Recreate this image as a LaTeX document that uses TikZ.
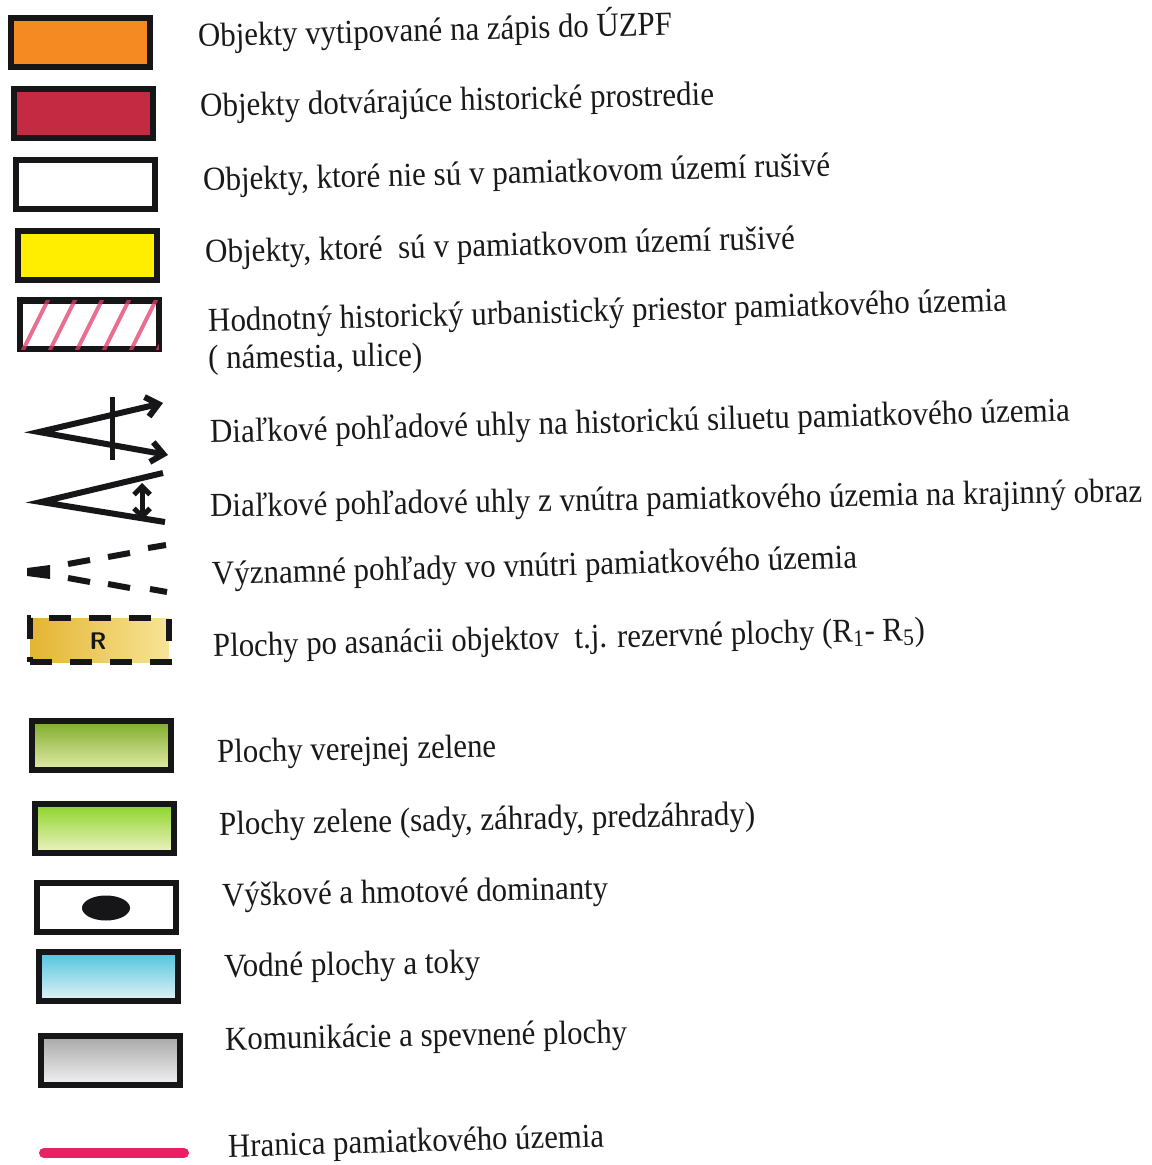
\documentclass[tikz,border=0pt]{standalone}
\usepackage{fontspec}
\setmainfont{Liberation Serif}
\usepackage{graphicx}
\usetikzlibrary{arrows.meta,shapes.geometric}
\definecolor{cOrange}{RGB}{246,138,34}
\definecolor{cRed}{RGB}{196,42,66}
\definecolor{cYellow}{RGB}{255,238,0}
\definecolor{cHatch}{RGB}{228,62,104}
\definecolor{cGreenA}{RGB}{126,172,42}
\definecolor{cGreenApale}{RGB}{228,236,170}
\definecolor{cGreenB}{RGB}{140,212,40}
\definecolor{cGreenBpale}{RGB}{238,242,196}
\definecolor{cCyan}{RGB}{78,196,222}
\definecolor{cCyanpale}{RGB}{228,243,246}
\definecolor{cGray}{RGB}{168,168,168}
\definecolor{cGraypale}{RGB}{242,242,242}
\definecolor{cOchre}{RGB}{228,180,50}
\definecolor{cOchrepale}{RGB}{247,228,150}
\definecolor{cPink}{RGB}{232,32,100}
\definecolor{cInk}{RGB}{22,22,24}
\tikzset{
  legbox/.style={draw=cInk, line width=3.2pt, rectangle, inner sep=0pt,
                 minimum width=69.3pt, minimum height=24.3pt},
  lab/.style={anchor=base west, inner sep=0pt, text=black!90,
              font=\fontsize{16.8}{19}\selectfont},
  sym/.style={draw=cInk, line width=3pt},
  dsh/.style={draw=cInk, line width=3pt},
}
\newcommand\lbl[6]{%
  \pgfmathsetmacro\lblw{(#4-#2)*0.5}%
  \pgfmathsetmacro\lbla{atan2(#3-#5,#4-#2)}%
  \node[lab, rotate=\lbla] (#1) at (#2,#3) {\resizebox{\lblw pt}{\height}{#6}};}
\begin{document}
\begin{tikzpicture}[x=0.5pt,y=-0.5pt]
\fill[white] (0,0) rectangle (1151,1165);
\useasboundingbox (0,0) rectangle (1151,1165);

% boxes
\node[legbox, fill=cOrange] (b1) at (80.5,42.5) {};
\node[legbox, fill=cRed] (b2) at (83.5,113.5) {};
\node[legbox, fill=white] (b3) at (85.5,184.5) {};
\node[legbox, fill=cYellow] (b4) at (87.5,255.5) {};
\node[legbox, fill=white] (b5) at (89.5,325) {};
\begin{scope}
  \clip ([shift={(1.6pt,1.6pt)}]b5.south west) rectangle ([shift={(-1.6pt,-1.6pt)}]b5.north east);
  \foreach \s in {22,49,76,103,130,157}
    \draw[cHatch, line width=2pt, opacity=0.75] (\s,352) -- (\s+27,298);
\end{scope}

% view angle symbol 1
\coordinate (aA) at (39,432);
\coordinate (aU) at (163,403);
\coordinate (aL) at (168,455);
\coordinate (aVt) at (112,397);
\coordinate (aVb) at (112,460);
\draw[sym, {Straight Barb[length=6pt,width=10pt]}-{Straight Barb[length=6pt,width=10pt]}] (aU) -- (aA) -- (aL);
\draw[sym, line width=2.5pt] (aVt) -- (aVb);

% view angle symbol 2
\coordinate (bA) at (41,502);
\coordinate (bU) at (163,473);
\coordinate (bL) at (165,522);
\coordinate (bVt) at (142,483);
\coordinate (bVb) at (142,520);
\draw[sym] (bU) -- (bA) -- (bL);
\draw[sym, line width=2.5pt, {Straight Barb[length=4pt,width=8pt]}-{Straight Barb[length=4pt,width=8pt]}] (bVt) -- (bVb);

% important views (dashed)
\coordinate (cA1) at (27,568);
\coordinate (cA2) at (50,565);
\coordinate (cA3) at (50,579);
\coordinate (cA4) at (27,576);
\fill[cInk] (cA1) -- (cA2) -- (cA3) -- (cA4) -- cycle;
\coordinate (cu1) at (68,564); \coordinate (cu2) at (90,560);
\coordinate (cu3) at (108,557); \coordinate (cu4) at (130,553);
\coordinate (cu5) at (148,548); \coordinate (cu6) at (166,545);
\coordinate (cl1) at (68,578); \coordinate (cl2) at (90,582);
\coordinate (cl3) at (108,584); \coordinate (cl4) at (130,588);
\coordinate (cl5) at (150,589); \coordinate (cl6) at (167,592);
\draw[dsh] (cu1) -- (cu2); \draw[dsh] (cu3) -- (cu4); \draw[dsh] (cu5) -- (cu6);
\draw[dsh] (cl1) -- (cl2); \draw[dsh] (cl3) -- (cl4); \draw[dsh] (cl5) -- (cl6);

% reserve area
\node[legbox, minimum height=22pt, left color=cOchre, right color=cOchrepale,
      dash pattern=on 11pt off 9pt] (b9) at (99.5,640) {};
\node[inner sep=0pt, font=\sffamily\bfseries\fontsize{12}{12}\selectfont, text=cInk] (rR) at (98,641) {R};

% greens etc.
\node[legbox, top color=cGreenA, bottom color=cGreenApale] (b10) at (101.5,745.5) {};
\node[legbox, top color=cGreenB, bottom color=cGreenBpale] (b11) at (104.5,828.5) {};
\node[legbox, fill=white] (b12) at (106.5,907.5) {};
\node[ellipse, fill=cInk, inner sep=0pt, minimum width=24pt, minimum height=12.5pt] (dom) at (106,908) {};
\node[legbox, top color=cCyan, bottom color=cCyanpale] (b13) at (108.5,976.5) {};
\node[legbox, top color=cGray, bottom color=cGraypale] (b14) at (110.5,1060.5) {};

% boundary line
\coordinate (p1) at (44,1153);
\coordinate (p2) at (184,1153);
\draw[cPink, line width=5pt, line cap=round] (p1) -- (p2);

% labels
\lbl{t1}{198}{47}{672}{35}{Objekty vytipované na zápis do ÚZPF}
\lbl{t2}{200}{117}{714}{105}{Objekty dotvárajúce historické prostredie}
\lbl{t3}{203}{191}{830}{176}{Objekty, ktoré nie sú v pamiatkovom území rušivé}
\lbl{t4}{205}{263}{795}{249}{Objekty, ktoré\ \ sú v pamiatkovom území rušivé}
\lbl{t5}{208}{332}{1007}{311}{Hodnotný historický urbanistický priestor pamiatkového územia}
\lbl{t5b}{208}{369}{422}{366}{( námestia, ulice)}
\lbl{t6}{210}{443}{1070}{421}{Diaľkové pohľadové uhly na historickú siluetu pamiatkového územia}
\lbl{t7}{210}{517}{1142}{502}{Diaľkové pohľadové uhly z vnútra pamiatkového územia na krajinný obraz}
\lbl{t8}{212}{585}{857}{568}{Významné pohľady vo vnútri pamiatkového územia}
\lbl{t9}{213}{657}{925}{640}{Plochy po asanácii objektov\ \ t.j. rezervné plochy (R\textsubscript{1}- R\textsubscript{5})}
\lbl{t10}{217}{763}{496}{757}{Plochy verejnej zelene}
\lbl{t11}{219}{835}{755}{825}{Plochy zelene (sady, záhrady, predzáhrady)}
\lbl{t12}{222}{906}{608}{899}{Výškové a hmotové dominanty}
\lbl{t13}{224}{977}{480}{973}{Vodné plochy a toky}
\lbl{t14}{225}{1050}{627}{1043}{Komunikácie a spevnené plochy}
\lbl{t15}{228}{1157}{604}{1147}{Hranica pamiatkového územia}
\end{tikzpicture}
\end{document}
